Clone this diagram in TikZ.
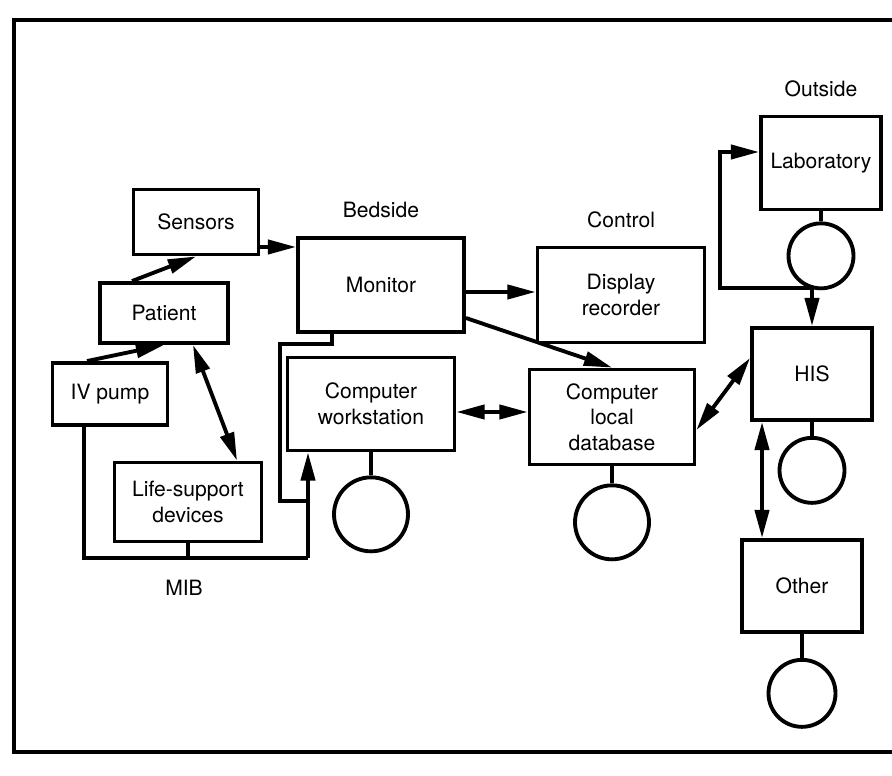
\documentclass[tikz,border=0pt]{standalone}
\usepackage{fontspec}
\setmainfont{TeX Gyre Heros}
\usetikzlibrary{positioning,calc,arrows.meta}

\begin{document}
\begin{tikzpicture}[
        x=0.02cm, y=-0.02cm,
        line width=2.2pt,
        font=\fontsize{12}{14.5}\selectfont,
        unit/.style={draw, rectangle, align=center, inner sep=2pt},
        disk/.style={draw, circle, minimum size=1.3cm, inner sep=0pt},
        arrow/.style={-{Triangle[length=16pt,width=8pt]}},
        dblarrow/.style={{Triangle[length=16pt,width=8pt]}-{Triangle[length=16pt,width=8pt]}}
    ]
        \useasboundingbox (0,0) rectangle (892,776);

        % Frame
        \draw (892,20) -- (14,20) -- (14,752) -- (892,752);

        % Nodes
        \node (sensors) [unit, minimum width=2.5cm, minimum height=1.3cm] at (196,222) {Sensors};
        \node (patient) [unit, minimum width=2.56cm, minimum height=1.2cm] at (164,313) {Patient};
        \node (ivpump) [unit, minimum width=2.3cm, minimum height=1.24cm] at (110,394) {IV pump};
        \node (life) [unit, minimum width=2.94cm, minimum height=1.58cm] at (188,502) {Life-support\\devices};
        \node (monitor) [unit, minimum width=3.32cm, minimum height=1.88cm] at (381,285) {Monitor};
        \node (station) [unit, minimum width=3.34cm, minimum height=1.86cm] at (371,404) {Computer\\workstation};
        \node (display) [unit, minimum width=3.34cm, minimum height=1.9cm] at (621,295) {Display\\recorder};
        \node (db) [unit, minimum width=3.3cm, minimum height=1.9cm] at (612,417) {Computer\\local\\database};
        \node (lab) [unit, minimum width=2.4cm, minimum height=1.86cm] at (821,163) {Laboratory};
        \node (his) [unit, minimum width=2.4cm, minimum height=1.84cm] at (812,374) {HIS};
        \node (other) [unit, minimum width=2.4cm, minimum height=1.84cm] at (802,586) {Other};

        % Storage
        \node (wsdisk) [disk, minimum size=1.48cm, below=0.46cm of station] {};
        \node (dbdisk) [disk, minimum size=1.48cm, below=0.34cm of db] {};
        \node (labdisk) [disk, below=0.2cm of lab] {};
        \node (hisdisk) [disk, below=0.28cm of his] {};
        \node (otherdisk) [disk, minimum size=1.34cm, below=0.48cm of other] {};
        \draw (station) -- (wsdisk);
        \draw (db) -- (dbdisk);
        \draw (lab) -- (labdisk);
        \draw (his) -- (hisdisk);
        \draw (other) -- (otherdisk);

        % Bus coordinates
        \coordinate (mibR) at (308,558);
        \coordinate (drop) at (280,501);
        \coordinate (join) at (308,501);
        \coordinate (hub) at (720,288);

        % Arrows
        \draw [arrow] ([xshift=-0.46cm]ivpump.north) -- (patient.south);
        \draw [arrow] ([xshift=-0.64cm]patient.north) -- (sensors.south);
        \draw [dblarrow] ([xshift=0.58cm]patient.south) -- ([xshift=0.98cm]life.north);
        \draw [arrow] ([yshift=-0.5cm]sensors.east) -- ([yshift=-0.5cm]sensors.east -| monitor.west);
        \draw [arrow] ([yshift=-0.14cm]monitor.east) -- ([yshift=-0.14cm]monitor.east -| display.west);
        \draw [arrow] ([yshift=-0.66cm]monitor.east) -- (db.north);
        \draw [dblarrow] ([yshift=-0.16cm]station.east) -- ([yshift=-0.16cm]station.east -| db.west);
        \draw [dblarrow] ([yshift=-0.26cm]db.east) -- ([yshift=0.32cm]his.west);
        \draw [dblarrow] ([yshift=0.22cm]lab.west) -| (hub) -| (his.north);
        \draw [dblarrow] ([xshift=-1cm]his.south) -- ([xshift=-1cm]his.south |- other.north);

        % MIB
        \draw ([xshift=-0.52cm]ivpump.south) |- (mibR);
        \draw (life.south) -- (life.south |- mibR);
        \draw [arrow] (mibR) -- (mibR |- station.south);
        \draw ([xshift=-0.98cm]monitor.south) -- ++(0,10) -| (drop) -- (join);

        % Annotations
        \node (bedside) [above=0.2cm of monitor] {Bedside};
        \node (control) [above=0.2cm of display] {Control};
        \node (outside) [above=0.2cm of lab] {Outside};
        \node (mib) at (184,588) {MIB};
    \end{tikzpicture}
\end{document}
